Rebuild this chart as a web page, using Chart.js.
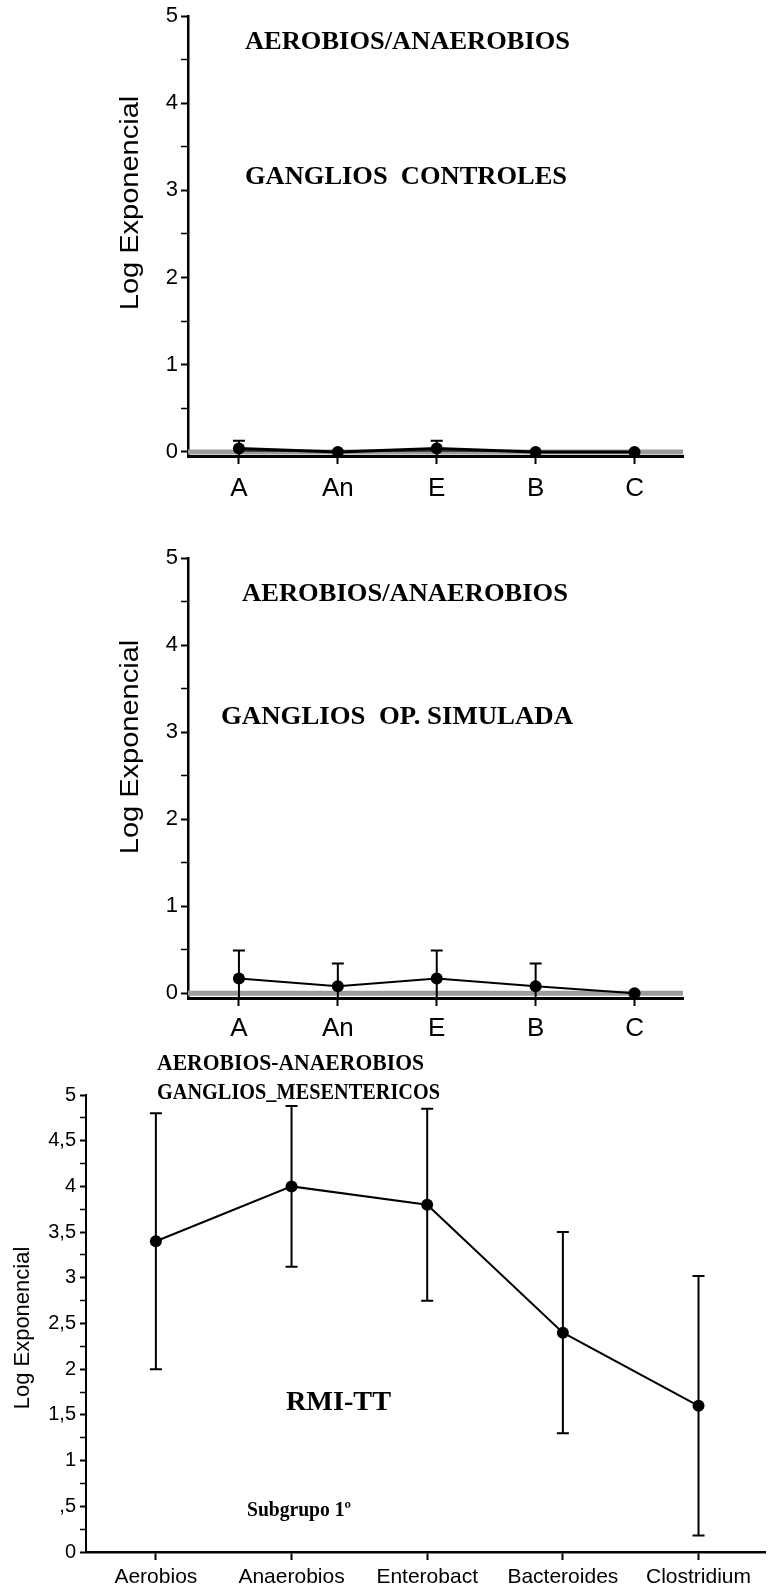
<!DOCTYPE html>
<html>
<head>
<meta charset="utf-8">
<script src="https://cdn.jsdelivr.net/npm/chart.js@4.4.1/dist/chart.umd.min.js"></script>
<style>
  html, body { margin: 0; padding: 0; background: #fff; }
  .panel { position: absolute; left: 0; width: 771px; }
</style>
</head>
<body>
<div class="panel" style="top:0;height:510px"><canvas id="c1"></canvas></div>
<div class="panel" style="top:510px;height:535px"><canvas id="c2"></canvas></div>
<div class="panel" style="top:1045px;height:549px"><canvas id="c3"></canvas></div>
<script>
// ---- categories ----
const shortCategories = ['A', 'An', 'E', 'B', 'C'];
const longCategories = ['Aerobios', 'Anaerobios', 'Enterobact', 'Bacteroides', 'Clostridium'];

// ---- series: mean and standard deviation (log units) ----
const controlMeans = [0.04, 0, 0.04, 0, 0];
const controlSD    = [0.09, 0, 0.09, 0, 0];

const shamMeans = [0.17, 0.08, 0.17, 0.08, 0];
const shamSD    = [0.32, 0.26, 0.32, 0.26, 0];

const rmiMeans = [3.4, 4.0, 3.8, 2.4, 1.6];
const rmiSD    = [1.4, 0.88, 1.05, 1.1, 1.42];

// zero reference band along the baseline (start and end value)
const baselineY = [0, 0];

// ---- y axis ticks ----
const unitTicks = [0, 0.5, 1, 1.5, 2, 2.5, 3, 3.5, 4, 4.5, 5];
const unitTickLabels = ['0', '', '1', '', '2', '', '3', '', '4', '', '5'];

const halfTicks = [0, 0.25, 0.5, 0.75, 1, 1.25, 1.5, 1.75, 2, 2.25, 2.5, 2.75,
                   3, 3.25, 3.5, 3.75, 4, 4.25, 4.5, 4.75, 5];
const halfTickLabels = ['0', '', ',5', '', '1', '', '1,5', '', '2', '', '2,5', '',
                        '3', '', '3,5', '', '4', '', '4,5', '', '5'];

const SANS = "'Liberation Sans', Arial, sans-serif";
const SERIF = "'Liberation Serif', 'Times New Roman', serif";

// Vertical error bars for dataset 0, drawn just before the series so markers sit on top.
const errorBarPlugin = {
  id: 'errorBars',
  beforeDatasetDraw(chart, args, opts) {
    if (args.index !== 0) return;
    const ds = chart.data.datasets[0];
    const meta = chart.getDatasetMeta(0);
    const yScale = chart.scales.y;
    const { ctx, chartArea } = chart;
    ctx.save();
    ctx.beginPath();
    ctx.rect(chartArea.left, chartArea.top - 2, chartArea.right - chartArea.left, chartArea.bottom - chartArea.top + 2);
    ctx.clip();
    ctx.strokeStyle = '#000';
    ctx.lineWidth = opts.width || 2;
    const cap = opts.cap || 6;
    ds.errors.forEach((e, i) => {
      if (!e) return;
      const x = meta.data[i].x;
      const v = ds.data[i].y;
      const yt = yScale.getPixelForValue(v + e);
      const yb = yScale.getPixelForValue(v - e);
      ctx.beginPath();
      ctx.moveTo(x, yt); ctx.lineTo(x, yb);
      ctx.moveTo(x - cap, yt); ctx.lineTo(x + cap, yt);
      ctx.moveTo(x - cap, yb); ctx.lineTo(x + cap, yb);
      ctx.stroke();
    });
    ctx.restore();
  }
};

// Free text: panel headings and the rotated y axis title.
const textPlugin = {
  id: 'panelText',
  afterDraw(chart, args, opts) {
    const ctx = chart.ctx;
    ctx.save();
    ctx.fillStyle = '#000';
    (opts.items || []).forEach(t => {
      ctx.save();
      ctx.font = t.font;
      ctx.textAlign = 'left';
      ctx.textBaseline = 'middle';
      const natural = ctx.measureText(t.text).width;
      const sx = t.w ? t.w / natural : 1;
      ctx.translate(t.x, t.y);
      ctx.scale(sx, 1);
      ctx.fillText(t.text, 0, 0);
      ctx.restore();
    });
    const yt = opts.yTitle;
    if (yt) {
      ctx.save();
      ctx.translate(yt.x, yt.y);
      ctx.rotate(-Math.PI / 2);
      ctx.scale(1, yt.squash || 1);
      ctx.font = yt.size + 'px ' + SANS;
      ctx.textAlign = 'center';
      ctx.textBaseline = 'middle';
      ctx.fillText(yt.text, 0, 0);
      ctx.restore();
    }
    ctx.restore();
  }
};

function makeChart(id, cfg) {
  const xMin = 0.485, xMax = 5.49;
  const datasets = [{
    data: cfg.means.map((v, i) => ({ x: i + 1, y: v })),
    errors: cfg.sd,
    borderColor: '#000',
    borderWidth: cfg.lineWidth,
    backgroundColor: cfg.fillColor || '#000',
    fill: cfg.fillColor ? 'origin' : false,
    pointRadius: cfg.pointRadius,
    pointBackgroundColor: '#000',
    pointBorderColor: '#000',
    pointBorderWidth: 0,
    tension: 0,
    clip: false,
    order: 0
  }];
  if (cfg.band) {
    datasets.push({
      data: [{ x: xMin, y: baselineY[0] }, { x: xMax, y: baselineY[1] }],
      borderColor: '#9c9c9c',
      borderWidth: 5,
      pointRadius: 0,
      fill: false,
      clip: false,
      order: 1
    });
  }
  const scales = {
    x: {
      type: 'linear',
      min: xMin,
      max: xMax,
      afterFit: s => { s.height = cfg.xHeight; s.paddingLeft = 0; s.paddingRight = 0; },
      afterBuildTicks: s => { s.ticks = cfg.categories.map((c, i) => ({ value: i + 1 })); },
      grid: { display: true, drawOnChartArea: false, drawTicks: true, tickLength: 8, tickColor: '#000', tickWidth: 2 },
      border: { display: true, color: '#000', width: cfg.xBorder },
      ticks: {
        color: '#000', font: { family: SANS, size: cfg.xFont }, padding: cfg.xPad, maxRotation: 0, autoSkip: false,
        callback: (v, i) => cfg.categories[i]
      }
    },
    y: {
      type: 'linear',
      min: cfg.yMin,
      max: 5,
      afterFit: s => { s.width = cfg.yWidth; s.paddingTop = 0; s.paddingBottom = 0; },
      afterBuildTicks: s => { s.ticks = cfg.yTicks.map(v => ({ value: v })); },
      grid: {
        display: true, drawOnChartArea: false, drawTicks: true, tickLength: cfg.yTickLen, tickColor: '#000',
        tickWidth: c => (cfg.yTickLabels[c.index] !== '') ? 2 : 1.5
      },
      border: { display: true, color: '#000', width: cfg.yBorder },
      ticks: {
        color: '#000', font: { family: SANS, size: cfg.yFont }, padding: cfg.yPad, autoSkip: false,
        callback: (v, i) => cfg.yTickLabels[i]
      }
    }
  };
  return new Chart(document.getElementById(id), {
    type: 'line',
    data: { datasets },
    options: {
      responsive: true,
      maintainAspectRatio: false,
      animation: false,
      events: [],
      layout: { padding: { top: cfg.padTop, right: cfg.padRight, left: 0, bottom: 0 } },
      scales,
      plugins: {
        legend: { display: false },
        tooltip: { enabled: false },
        errorBars: { width: 2, cap: 6 },
        panelText: { items: cfg.texts, yTitle: cfg.yTitle }
      }
    },
    plugins: [errorBarPlugin, textPlugin]
  });
}

// Control lymph nodes
makeChart('c1', {
  categories: shortCategories, means: controlMeans, sd: controlSD,
  lineWidth: 3, pointRadius: 6, fillColor: '#444', band: true,
  yMin: -0.046, yTicks: unitTicks, yTickLabels: unitTickLabels,
  padTop: 16, padRight: 88, yWidth: 188, xHeight: 54,
  xFont: 26, xPad: 9, xBorder: 3, yFont: 22, yPad: 3, yTickLen: 7, yBorder: 2.5,
  texts: [
    { text: 'AEROBIOS/ANAEROBIOS', x: 245, y: 42, w: 325, font: 'bold 26px ' + SERIF },
    { text: 'GANGLIOS  CONTROLES', x: 245, y: 177, w: 322, font: 'bold 26px ' + SERIF }
  ],
  yTitle: { text: 'Log Exponencial', x: 131, y: 203, size: 29, squash: 0.86 }
});

// Sham-operated lymph nodes
makeChart('c2', {
  categories: shortCategories, means: shamMeans, sd: shamSD,
  lineWidth: 2, pointRadius: 6, band: true,
  yMin: -0.055, yTicks: unitTicks, yTickLabels: unitTickLabels,
  padTop: 48, padRight: 88, yWidth: 188, xHeight: 47,
  xFont: 26, xPad: 7, xBorder: 3, yFont: 22, yPad: 3, yTickLen: 7, yBorder: 2.5,
  texts: [
    { text: 'AEROBIOS/ANAEROBIOS', x: 242, y: 84, w: 326, font: 'bold 26px ' + SERIF },
    { text: 'GANGLIOS  OP. SIMULADA', x: 221, y: 207, w: 352, font: 'bold 26px ' + SERIF }
  ],
  yTitle: { text: 'Log Exponencial', x: 131, y: 237, size: 29, squash: 0.86 }
});

// Mesenteric lymph nodes, RMI-TT subgroup 1
makeChart('c3', {
  categories: longCategories, means: rmiMeans, sd: rmiSD,
  lineWidth: 2, pointRadius: 6, band: false,
  yMin: 0, yTicks: halfTicks, yTickLabels: halfTickLabels,
  padTop: 50, padRight: 0, yWidth: 86, xHeight: 42,
  xFont: 21, xPad: 5, xBorder: 2.5, yFont: 20, yPad: 4, yTickLen: 6, yBorder: 2,
  texts: [
    { text: 'AEROBIOS-ANAEROBIOS', x: 157, y: 19, w: 267, font: 'bold 23px ' + SERIF },
    { text: 'GANGLIOS_MESENTERICOS', x: 157, y: 48, w: 283, font: 'bold 23px ' + SERIF },
    { text: 'RMI-TT', x: 286, y: 358, w: 105, font: 'bold 28px ' + SERIF },
    { text: 'Subgrupo 1º', x: 247, y: 465, w: 104, font: 'bold 22px ' + SERIF }
  ],
  yTitle: { text: 'Log Exponencial', x: 23, y: 283, size: 22, squash: 1 }
});
</script>
</body>
</html>
